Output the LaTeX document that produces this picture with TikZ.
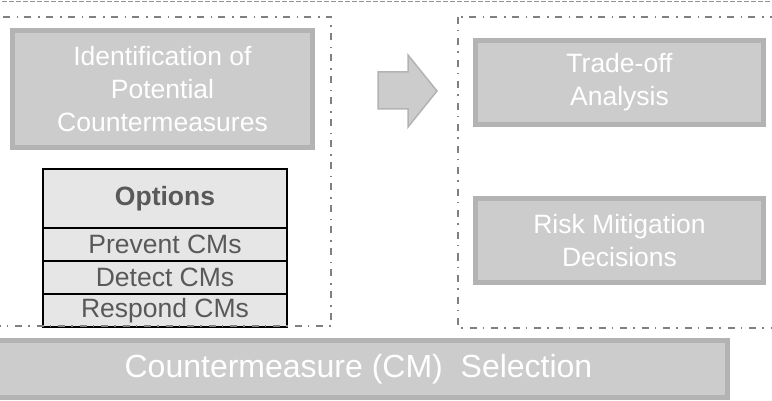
\documentclass[tikz,border=0pt]{standalone}
\usepackage{fontspec}
\setmainfont{Liberation Sans}
\definecolor{boxfill}{HTML}{CCCCCC}
\definecolor{boxline}{HTML}{B3B3B3}
\definecolor{cellfill}{HTML}{E6E6E6}
\definecolor{celltext}{HTML}{595959}
\definecolor{frameline}{HTML}{808080}
\begin{document}
\begin{tikzpicture}[x=1pt,y=-1pt,
  stagebox/.style={fill=boxfill, draw=boxline, line width=5pt, text=white,
    align=center, inner sep=0pt, font=\fontsize{26.5}{33}\selectfont},
  optcell/.style={fill=cellfill, draw=black, line width=2pt, text=celltext,
    minimum width=244pt, inner sep=0pt, font=\fontsize{26.5}{33}\selectfont},
  groupframe/.style={draw=frameline, line width=1.6pt,
    dash pattern=on 7pt off 6pt on 1.5pt off 7pt},
  topline/.style={draw=frameline!85, line width=1pt, dash pattern=on 5pt off 2pt},
  flowarrow/.style={fill=boxfill, draw=boxline, line width=1.5pt, line join=miter}]
\useasboundingbox (0,0) rectangle (772,401);
\clip (0,0) rectangle (772,401);

% separator along the top edge
\coordinate (tl) at (-5,1.5);
\coordinate (tr) at (780,1.5);
\draw[topline] (tl) -- (tr);

% left stage: identification and options
\node[stagebox, minimum width=300pt, minimum height=117pt] (ident) at (162.5,89)
  {Identification of\\Potential\\Countermeasures};

\node[optcell, minimum height=59pt, font=\fontsize{26.5}{33}\selectfont\bfseries] (opthead) at (165,198.5) {Options};
\node[optcell, minimum height=33pt] (prevent) at (165,244.5) {Prevent CMs};
\node[optcell, minimum height=33pt] (detect) at (165,277.5) {Detect CMs};
\node[optcell, minimum height=33pt] (respond) at (165,310.5) {Respond CMs};

\draw[groupframe] (-20,17) rectangle (331,326);

% block arrow between the stages
\draw[flowarrow] (378,72) -- (408,72) -- (408,55) -- (437,91) -- (408,127)
  -- (408,109) -- (378,109) -- cycle;

% right stage: analysis and decisions
\node[stagebox, minimum width=288pt, minimum height=84pt] (tradeoff) at (619.5,82.5)
  {Trade-off\\Analysis};
\node[stagebox, minimum width=288pt, minimum height=84pt] (riskdec) at (619.5,240.5)
  {Risk Mitigation\\Decisions};

\draw[groupframe] (458,17) rectangle (790,328);

% overall banner
\node[stagebox, minimum width=738pt, minimum height=57pt, font=\fontsize{32}{38}\selectfont]
  (banner) at (358.5,369) {Countermeasure (CM)\ \ Selection};
\end{tikzpicture}
\end{document}
